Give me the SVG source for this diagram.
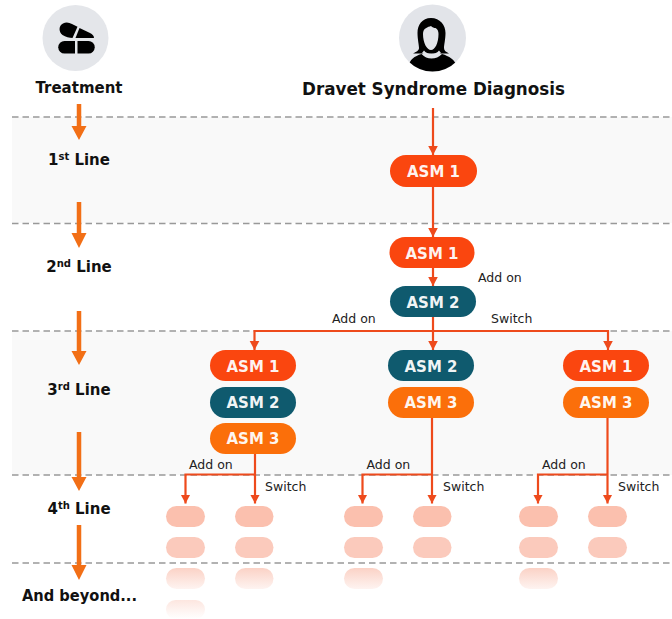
<svg xmlns="http://www.w3.org/2000/svg" width="672" height="619" viewBox="0 0 672 619">
<style>
text{font-family:"DejaVu Sans","Liberation Sans",sans-serif;fill:#111}
.h{font-weight:700;font-size:15px;text-anchor:middle}
.t{font-size:12.500px;fill:#222}
.p{font-weight:700;font-size:15px;fill:#fff;text-anchor:middle;fill-opacity:.95}
.sup{font-size:10px}
.dash{stroke:#999;stroke-width:1.4;stroke-dasharray:6.5 4;fill:none}
.c{stroke:#ee4a1c;stroke-width:2.200;fill:none}
.o{stroke:#f26f16;stroke-width:4.5;fill:none}
.a1{fill:#fa460f}.a2{fill:#0f5a6e}.a3{fill:#fb6f0a}
.f1{fill:#fbc0ae}.f2{fill:#fbcabc}
</style>
<defs>
<marker id="ah" markerUnits="userSpaceOnUse" markerWidth="10" markerHeight="11" refX="9" refY="5" orient="auto"><path d="M0 0.200L9 5L0 9.800Z" fill="#ee4a1c"/></marker>
<linearGradient id="fade1" x1="0" y1="0" x2="0" y2="1"><stop offset="0" stop-color="#fbd2c6"/><stop offset="1" stop-color="#fbd2c6" stop-opacity=".25"/></linearGradient>
<linearGradient id="fade2" x1="0" y1="0" x2="0" y2="1"><stop offset="0" stop-color="#fbd2c6" stop-opacity=".55"/><stop offset="1" stop-color="#fbd2c6" stop-opacity="0"/></linearGradient>
<clipPath id="pc"><circle cx="432.500" cy="38" r="33.500"/></clipPath>
</defs>
<rect width="672" height="619" fill="#fff"/>
<g id="bands">
<rect x="12" y="117" width="660" height="106" fill="#f9f9f9"/>
<rect x="12" y="331" width="660" height="144" fill="#f9f9f9"/>
<path class="dash" d="M12 117H672M12 223.500H672M12 331H672M12 475H672M12 563H672"/>
</g>
<g id="treatment-icon">
<circle cx="75.500" cy="38" r="33" fill="#e4e6ea"/>
<path d="M63 23.500c3-1.500 6-1 9 .5l5.500 2.800L72.500 38c-3 0-7-1-10-3c-4-3-4-9.500.5-11.500Z" fill="#000"/>
<path d="M79.500 28L90 33c2.500 1.300 4 3 4 5H75.500Z" fill="#000"/>
<path d="M75 41V53.500H64.500a6.250 6.250 0 0 1 0-12.500Z" fill="#000"/>
<path d="M77.500 41H88.500a6.250 6.250 0 0 1 0 12.500H77.500Z" fill="#000"/>
</g>
<g id="patient-icon">
<circle cx="432.500" cy="38" r="33.500" fill="#e2e4e9"/>
<path d="M431 18c-9 0-13.500 7-13.500 15c0 6 1.500 12 1.500 15c0 2.500-3 4-6 5.500h36c-3-1.500-5-3-5-5.500c0-3 1.500-9 1.500-15c0-8-5.500-15-14.500-15Z" fill="#000"/>
<path d="M431 26c-3 1-8 2-8 8c0 9 4 16 8 16s7.500-7 7.500-16c0-3-1-5-3-6c-1.500 0-3-.5-4.500-2Z" fill="#e2e4e9"/>
<path d="M424 50.500c1.500 2 4.500 3.500 7.500 3.500s6-1.500 7.500-3.500l2 2.500c-2 2-6 3-9.500 3s-7.500-1-9.500-3Z" fill="#e2e4e9"/>
<path clip-path="url(#pc)" d="M408.500 66c1-6 6-10 13-12c3 3 6 4.500 10 4.500s7.500-1.500 10.500-4.500c7 2 13 6 15 12l-8 8H415Z" fill="#000"/>
</g>
<g id="headers">
<text class="h" x="79" y="93" textLength="87" lengthAdjust="spacingAndGlyphs">Treatment</text>
<text class="h" x="433.500" y="95" style="font-size:18px" textLength="263" lengthAdjust="spacingAndGlyphs">Dravet Syndrome Diagnosis</text>
<text class="h" x="79" y="165">1<tspan class="sup" dy="-5">st</tspan><tspan dy="5"> Line</tspan></text>
<text class="h" x="79" y="272">2<tspan class="sup" dy="-5">nd</tspan><tspan dy="5"> Line</tspan></text>
<text class="h" x="79" y="395">3<tspan class="sup" dy="-5">rd</tspan><tspan dy="5"> Line</tspan></text>
<text class="h" x="79" y="514">4<tspan class="sup" dy="-5">th</tspan><tspan dy="5"> Line</tspan></text>
<text class="h" x="79.500" y="601" textLength="115" lengthAdjust="spacingAndGlyphs">And beyond...</text>
</g>
<g id="connectors">
<g id="timeline">
<path class="o" d="M79 104V127M79 202V234M79 311V352M79 432V478M79 525V566"/>
<path d="M71.500 126H86.500L79 140Z M71.500 233H86.500L79 248Z M71.500 351H86.500L79 365Z M71.500 477H86.500L79 491Z M71.500 565H86.500L79 580Z" fill="#f26f16"/>
</g>
<path class="c" d="M433 108V155" marker-end="url(#ah)"/>
<path class="c" d="M433 187V237" marker-end="url(#ah)"/>
<path class="c" d="M433 268V286" marker-end="url(#ah)"/>
<path class="c" d="M433 317V350" marker-end="url(#ah)"/>
<path class="c" d="M608 331H254.500V350" marker-end="url(#ah)"/>
<path class="c" d="M608 330V350" marker-end="url(#ah)"/>
<path class="c" d="M255 454V503.500" marker-end="url(#ah)"/>
<path class="c" d="M255 474.500H185.500V503.500" marker-end="url(#ah)"/>
<path class="c" d="M432 418V503.500" marker-end="url(#ah)"/>
<path class="c" d="M432 474.500H362.500V503.500" marker-end="url(#ah)"/>
<path class="c" d="M607.500 418V503.500" marker-end="url(#ah)"/>
<path class="c" d="M607.500 474.500H538V503.500" marker-end="url(#ah)"/>
</g>
<g id="connector-labels">
<text class="t" x="478" y="281.500">Add on</text>
<text class="t" x="332" y="323">Add on</text>
<text class="t" x="491" y="323">Switch</text>
<text class="t" x="189" y="469">Add on</text>
<text class="t" x="265" y="491">Switch</text>
<text class="t" x="366.500" y="469">Add on</text>
<text class="t" x="443" y="491">Switch</text>
<text class="t" x="542" y="469">Add on</text>
<text class="t" x="618" y="491">Switch</text>
</g>
<g id="n1-asm1"><rect class="a1" x="390" y="155" width="87" height="32" rx="16"/><text class="p" x="433.500" y="177">ASM 1</text></g>
<g id="n2-asm1"><rect class="a1" x="389.500" y="237" width="85" height="31" rx="15.500"/><text class="p" x="432" y="258.500">ASM 1</text></g>
<g id="n2-asm2"><rect class="a2" x="390" y="286" width="86" height="31" rx="15.500"/><text class="p" x="433" y="307.500">ASM 2</text></g>
<g id="n3a-asm1"><rect class="a1" x="210" y="350" width="86" height="31" rx="15.500"/><text class="p" x="253" y="372">ASM 1</text></g>
<g id="n3a-asm2"><rect class="a2" x="210" y="387" width="86" height="31" rx="15.500"/><text class="p" x="253" y="408">ASM 2</text></g>
<g id="n3a-asm3"><rect class="a3" x="210" y="423" width="86" height="31" rx="15.500"/><text class="p" x="253" y="444">ASM 3</text></g>
<g id="n3b-asm2"><rect class="a2" x="388" y="350" width="86" height="31" rx="15.500"/><text class="p" x="431" y="372">ASM 2</text></g>
<g id="n3b-asm3"><rect class="a3" x="388" y="387" width="86" height="31" rx="15.500"/><text class="p" x="431" y="408">ASM 3</text></g>
<g id="n3c-asm1"><rect class="a1" x="563" y="350" width="86" height="31" rx="15.500"/><text class="p" x="606" y="372">ASM 1</text></g>
<g id="n3c-asm3"><rect class="a3" x="563" y="387" width="86" height="31" rx="15.500"/><text class="p" x="606" y="408">ASM 3</text></g>
<g id="faded-a1"><rect class="f1" x="166" y="506" width="39" height="21" rx="10.500"/><rect class="f2" x="166" y="537" width="39" height="21" rx="10.500"/><rect fill="url(#fade1)" x="166" y="568" width="39" height="21" rx="10.500"/><rect fill="url(#fade2)" x="166" y="600" width="39" height="19" rx="9.500"/></g>
<g id="faded-a2"><rect class="f1" x="235" y="506" width="38.500" height="21" rx="10.500"/><rect class="f2" x="235" y="537" width="38.500" height="21" rx="10.500"/><rect fill="url(#fade1)" x="235" y="568" width="38.500" height="21" rx="10.500"/></g>
<g id="faded-b1"><rect class="f1" x="344" y="506" width="39" height="21" rx="10.500"/><rect class="f2" x="344" y="537" width="39" height="21" rx="10.500"/><rect fill="url(#fade1)" x="344" y="568" width="39" height="21" rx="10.500"/></g>
<g id="faded-b2"><rect class="f1" x="413" y="506" width="38.500" height="21" rx="10.500"/><rect class="f2" x="413" y="537" width="38.500" height="21" rx="10.500"/></g>
<g id="faded-c1"><rect class="f1" x="519" y="506" width="39" height="21" rx="10.500"/><rect class="f2" x="519" y="537" width="39" height="21" rx="10.500"/><rect fill="url(#fade1)" x="519" y="568" width="39" height="21" rx="10.500"/></g>
<g id="faded-c2"><rect class="f1" x="588" y="506" width="39" height="21" rx="10.500"/><rect class="f2" x="588" y="537" width="39" height="21" rx="10.500"/></g>
</svg>
